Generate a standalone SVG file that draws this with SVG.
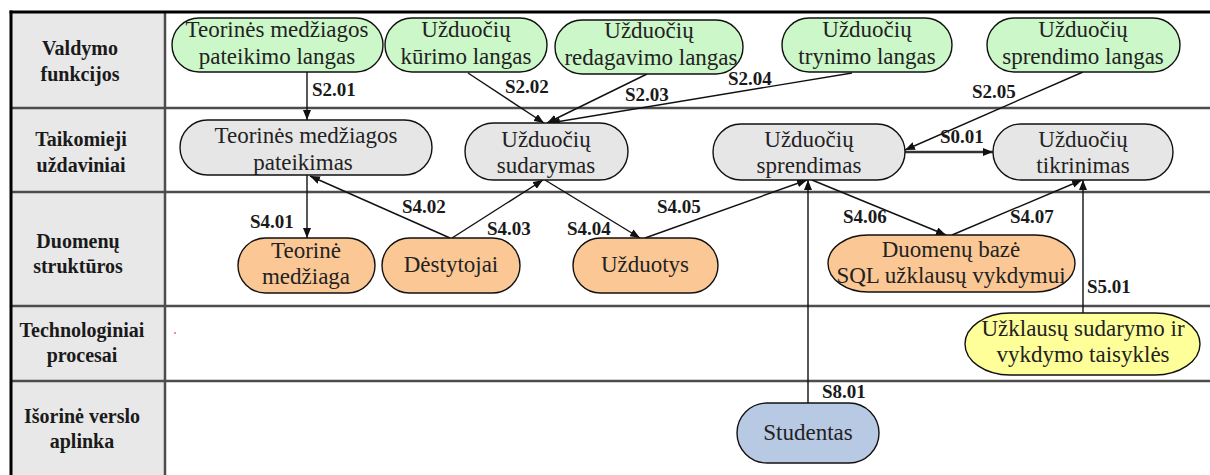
<svg xmlns="http://www.w3.org/2000/svg" width="1210" height="475" viewBox="0 0 1210 475">
  <style>
    text { font-family: 'Liberation Serif', 'Times New Roman', Tinos, 'DejaVu Serif', serif; }
    .hdr { font-weight: bold; font-size: 20px; fill: #1a1a1a; text-anchor: middle; }
    .txt { font-size: 23px; fill: #222; text-anchor: middle; }
    .lbl { font-weight: bold; font-size: 19px; fill: #1a1a1a; }
    .grid { stroke: #4d4d4d; stroke-width: 2.5; fill: none; }
    .node { stroke: #111; stroke-width: 1.4; }
    .green { fill: #ccf7c8; }
    .gray { fill: #e6e6e6; }
    .orange { fill: #fbc895; }
    .yellow { fill: #ffff99; }
    .blue { fill: #b8c9e4; }
    .conn { stroke: #111; stroke-width: 1.4; fill: none; marker-end: url(#arrow); }
    .thick { stroke: #333; stroke-width: 2.6; }
  </style>
  <defs>
    <marker id="arrow" viewBox="0 0 10 8" refX="10" refY="4" markerWidth="10" markerHeight="8" markerUnits="userSpaceOnUse" orient="auto">
      <path d="M0,0 L10,4 L0,8 Z" fill="#111"/>
    </marker>
  </defs>

  <!-- table frame -->
  <g id="table">
    <rect x="0" y="0" width="1210" height="475" fill="#ffffff"/>
    <rect x="11" y="12" width="154" height="463" fill="#e8e8e8"/>
    <line class="grid" x1="11" y1="108" x2="1210" y2="108"/>
    <line class="grid" x1="11" y1="192" x2="1210" y2="192"/>
    <line class="grid" x1="11" y1="306" x2="1210" y2="306"/>
    <line class="grid" x1="11" y1="381" x2="1210" y2="381"/>
    <line class="grid" x1="165" y1="12" x2="165" y2="475"/>
    <line x1="11" y1="10.5" x2="11" y2="475" stroke="#000" stroke-width="3"/>
    <line x1="9.5" y1="12" x2="1210" y2="12" stroke="#000" stroke-width="3"/>
    <circle cx="175" cy="333" r="1" fill="#d07a7a"/>
  </g>

  <!-- row headers -->
  <g id="headers">
    <text class="hdr" x="80" y="55">Valdymo</text>
    <text class="hdr" x="80" y="81">funkcijos</text>
    <text class="hdr" x="81" y="146">Taikomieji</text>
    <text class="hdr" x="81" y="172">uždaviniai</text>
    <text class="hdr" x="78" y="248">Duomenų</text>
    <text class="hdr" x="78" y="273">struktūros</text>
    <text class="hdr" x="82" y="337">Technologiniai</text>
    <text class="hdr" x="82" y="362">procesai</text>
    <text class="hdr" x="82" y="423">Išorinė verslo</text>
    <text class="hdr" x="82" y="448">aplinka</text>
  </g>

  <!-- connectors -->
  <g id="connectors">
    <line class="conn" x1="307" y1="72" x2="307" y2="120"/>
    <line class="conn" x1="468" y1="73" x2="544" y2="123"/>
    <line class="conn" x1="647" y1="74" x2="547" y2="123"/>
    <line class="conn" x1="852" y1="73" x2="550" y2="123"/>
    <line class="conn" x1="1083" y1="72" x2="905" y2="150"/>
    <line class="conn thick" x1="905" y1="152" x2="993" y2="152"/>
    <line class="conn" x1="307" y1="175" x2="307" y2="238"/>
    <line class="conn" x1="450" y1="238" x2="310" y2="176"/>
    <line class="conn" x1="452" y1="238" x2="543" y2="180"/>
    <line class="conn" x1="545" y1="180" x2="640" y2="238"/>
    <line class="conn" x1="645" y1="238" x2="807" y2="180"/>
    <line class="conn" x1="812" y1="180" x2="946" y2="235"/>
    <line class="conn" x1="952" y1="235" x2="1082" y2="180"/>
    <line class="conn" x1="1083" y1="313" x2="1083" y2="180"/>
    <line class="conn" x1="808" y1="403" x2="808" y2="180"/>
  </g>

  <!-- connector labels -->
  <g id="labels">
    <text class="lbl" x="312" y="96">S2.01</text>
    <text class="lbl" x="505" y="93">S2.02</text>
    <text class="lbl" x="625" y="101">S2.03</text>
    <text class="lbl" x="728" y="85">S2.04</text>
    <text class="lbl" x="972" y="98">S2.05</text>
    <text class="lbl" x="940" y="143">S0.01</text>
    <text class="lbl" x="250" y="228">S4.01</text>
    <text class="lbl" x="402" y="213">S4.02</text>
    <text class="lbl" x="487" y="235">S4.03</text>
    <text class="lbl" x="567" y="235">S4.04</text>
    <text class="lbl" x="657" y="213">S4.05</text>
    <text class="lbl" x="843" y="223">S4.06</text>
    <text class="lbl" x="1010" y="223">S4.07</text>
    <text class="lbl" x="1087" y="293">S5.01</text>
    <text class="lbl" x="822" y="398">S8.01</text>
  </g>

  <!-- control functions -->
  <g id="n-teor-langas">
    <rect class="node green" x="172" y="18" width="211" height="54" rx="27" ry="27"/>
    <text class="txt" x="277" y="37">Teorinės medžiagos</text>
    <text class="txt" x="277" y="64">pateikimo langas</text>
  </g>
  <g id="n-kurimo">
    <rect class="node green" x="385" y="18" width="162" height="54" rx="27" ry="27"/>
    <text class="txt" x="466" y="37">Užduočių</text>
    <text class="txt" x="466" y="64">kūrimo langas</text>
  </g>
  <g id="n-redagavimo">
    <rect class="node green" x="555" y="20" width="188" height="54" rx="27" ry="27"/>
    <text class="txt" x="649" y="38">Užduočių</text>
    <text class="txt" x="651" y="65">redagavimo langas</text>
  </g>
  <g id="n-trynimo">
    <rect class="node green" x="782" y="18" width="170" height="54" rx="27" ry="27"/>
    <text class="txt" x="867" y="37">Užduočių</text>
    <text class="txt" x="867" y="64">trynimo langas</text>
  </g>
  <g id="n-sprendimo-langas">
    <rect class="node green" x="987" y="18" width="193" height="54" rx="27" ry="27"/>
    <text class="txt" x="1083" y="37">Užduočių</text>
    <text class="txt" x="1083" y="64">sprendimo langas</text>
  </g>

  <!-- applied tasks -->
  <g id="n-teor-pateikimas">
    <rect class="node gray" x="180" y="120" width="252" height="55" rx="27.5" ry="27.5"/>
    <text class="txt" x="306" y="143">Teorinės medžiagos</text>
    <text class="txt" x="303" y="170">pateikimas</text>
  </g>
  <g id="n-sudarymas">
    <rect class="node gray" x="465" y="123" width="163" height="57" rx="28.5" ry="28.5"/>
    <text class="txt" x="546" y="147">Užduočių</text>
    <text class="txt" x="546" y="173">sudarymas</text>
  </g>
  <g id="n-sprendimas">
    <rect class="node gray" x="713" y="124" width="192" height="56" rx="28" ry="28"/>
    <text class="txt" x="809" y="147">Užduočių</text>
    <text class="txt" x="809" y="173">sprendimas</text>
  </g>
  <g id="n-tikrinimas">
    <rect class="node gray" x="993" y="124" width="180" height="56" rx="28" ry="28"/>
    <text class="txt" x="1083" y="147">Užduočių</text>
    <text class="txt" x="1083" y="173">tikrinimas</text>
  </g>

  <!-- data structures -->
  <g id="n-teor-medziaga">
    <rect class="node orange" x="238" y="238" width="137" height="55" rx="27.5" ry="27.5"/>
    <text class="txt" x="306" y="258">Teorinė</text>
    <text class="txt" x="306" y="284">medžiaga</text>
  </g>
  <g id="n-destytojai">
    <rect class="node orange" x="382" y="238" width="138" height="55" rx="27.5" ry="27.5"/>
    <text class="txt" x="451" y="272">Dėstytojai</text>
  </g>
  <g id="n-uzduotys">
    <rect class="node orange" x="573" y="238" width="145" height="55" rx="27.5" ry="27.5"/>
    <text class="txt" x="645" y="272">Užduotys</text>
  </g>
  <g id="n-db">
    <rect class="node orange" x="828" y="235" width="247" height="57" rx="40" ry="28.5"/>
    <text class="txt" x="951" y="257">Duomenų bazė</text>
    <text class="txt" x="951" y="283">SQL užklausų vykdymui</text>
  </g>

  <!-- technological processes -->
  <g id="n-taisykles">
    <rect class="node yellow" x="965" y="313" width="235" height="62" rx="45" ry="31"/>
    <text class="txt" x="1083" y="336">Užklausų sudarymo ir</text>
    <text class="txt" x="1083" y="362">vykdymo taisyklės</text>
  </g>

  <!-- external environment -->
  <g id="n-studentas">
    <rect class="node blue" x="737" y="403" width="142" height="60" rx="30" ry="30"/>
    <text class="txt" x="808" y="440">Studentas</text>
  </g>
</svg>
